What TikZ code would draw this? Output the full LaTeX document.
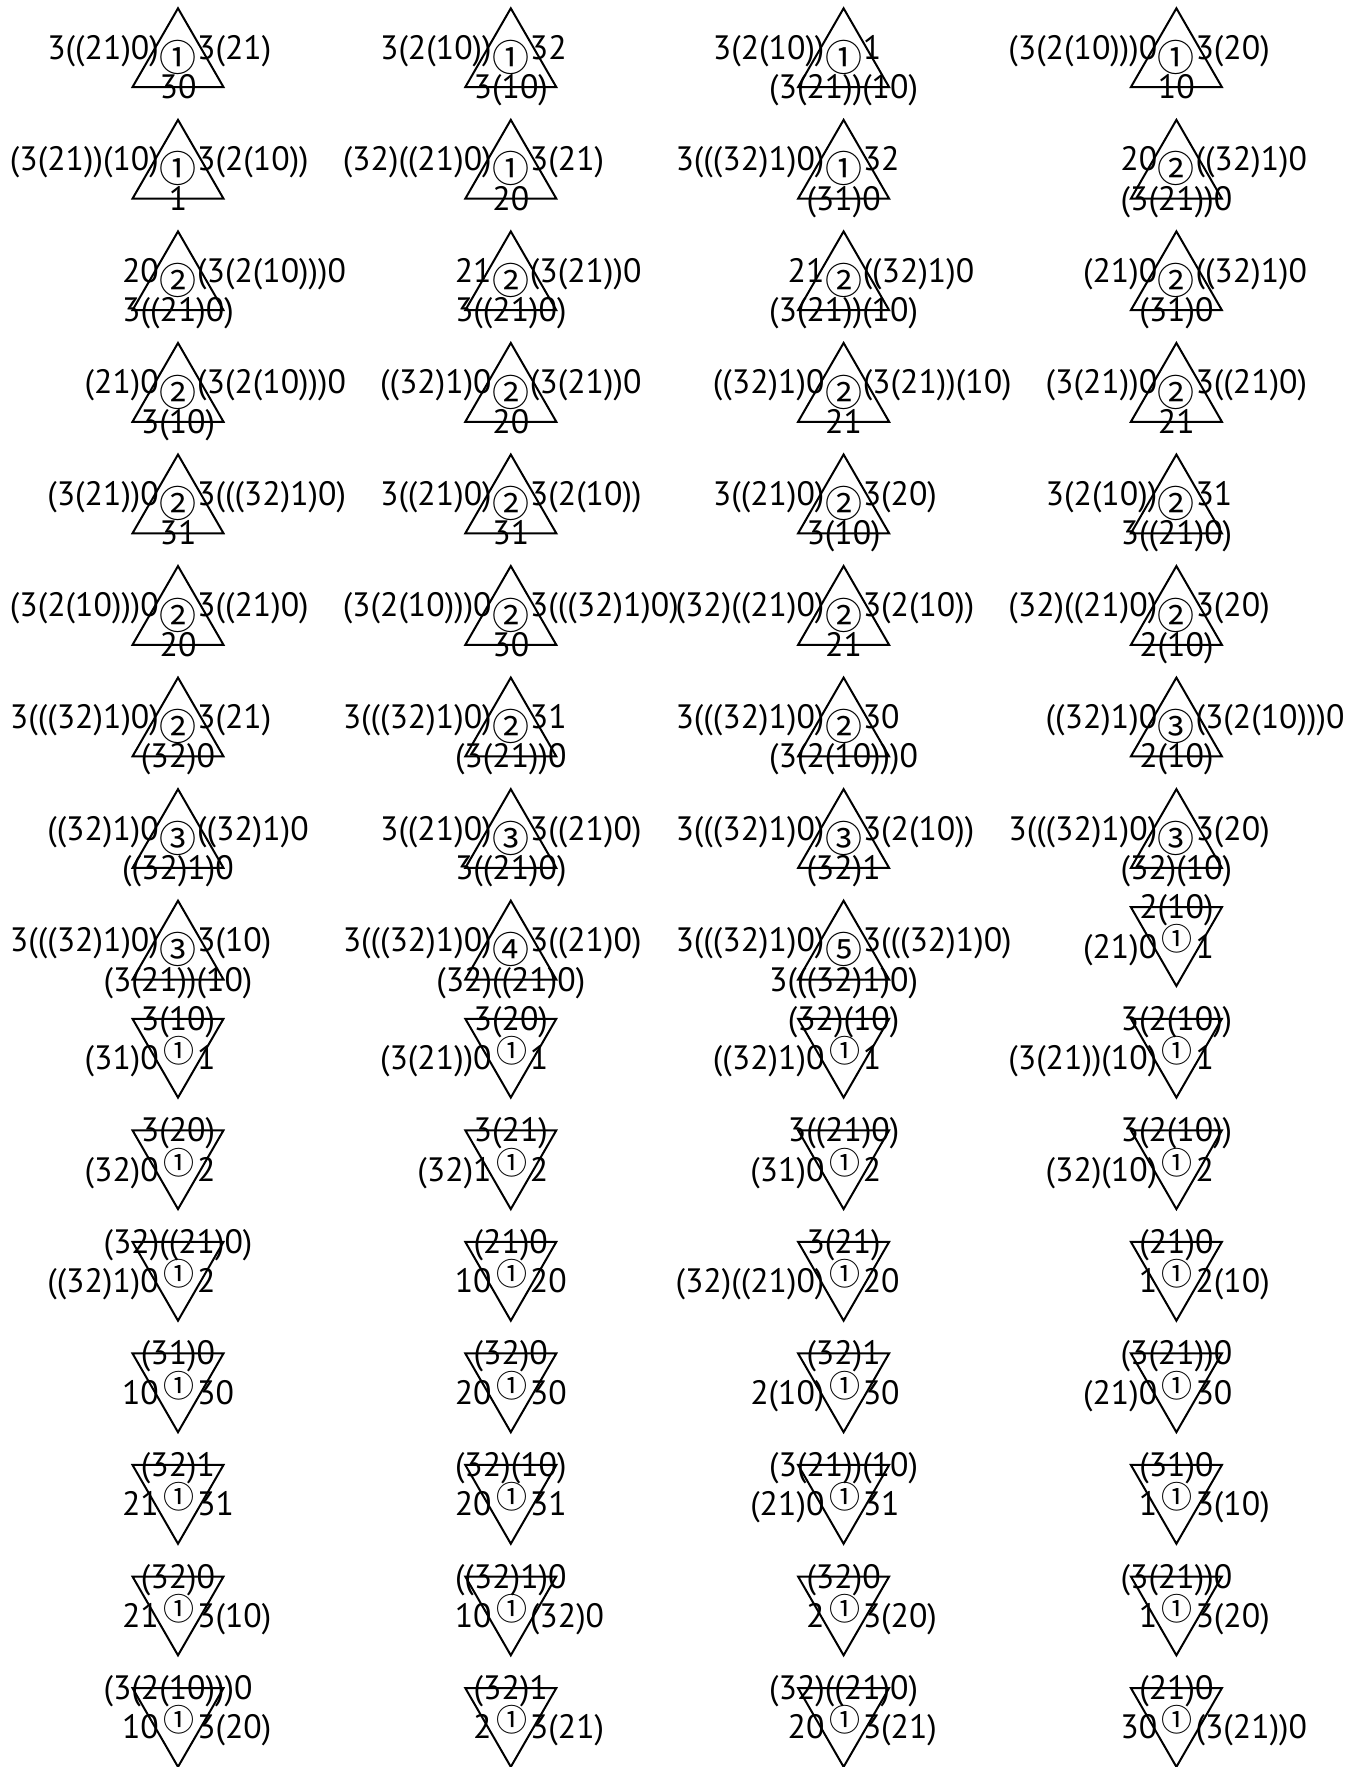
\documentclass[tikz,border=0pt]{standalone}
\usepackage{fontspec}
\setmainfont{PT Sans}
\newfontfamily\circfont{Noto Sans CJK JP}
\tikzset{
  tri/.style={line width=1pt, line join=miter},
  lab/.style={inner sep=0pt, font=\fontsize{16.9pt}{20pt}\selectfont},
  unum/.style={inner sep=0pt, font=\circfont\fontsize{18.5pt}{20pt}\selectfont},
  dnum/.style={inner sep=0pt, font=\circfont\fontsize{15.5pt}{18pt}\selectfont},
}
% #1 name, #2 col, #3 row, #4 left, #5 right, #6 bottom, #7 number
\newcommand\uptri[7]{%
  \pgfmathsetmacro\tcx{178+332.8*#2}%
  \pgfmathsetmacro\tty{8.3+111.55*#3}%
  \coordinate (#1-a) at (\tcx,\tty);
  \coordinate (#1-bl) at (\tcx-45.5,\tty+78.8);
  \coordinate (#1-br) at (\tcx+45.5,\tty+78.8);
  \draw[tri] (#1-a) -- (#1-bl) -- (#1-br) -- cycle;
  \node[lab, anchor=base east] (#1-l) at (\tcx-22.75+4,\tty+39.4+11.5) {#4};
  \node[lab, anchor=base west] (#1-r) at (\tcx+22.75-4,\tty+39.4+11.5) {#5};
  \node[lab, anchor=base] (#1-b) at (\tcx,\tty+78.8+11.5) {#6};
  \node[unum] (#1-n) at (\tcx,\tty+49) {#7};
}
% #1 name, #2 col, #3 row, #4 left, #5 right, #6 top, #7 number
\newcommand\dntri[7]{%
  \pgfmathsetmacro\tcx{178+332.8*#2}%
  \pgfmathsetmacro\tty{8.3+111.55*#3+6.5}%
  \coordinate (#1-tl) at (\tcx-45.5,\tty);
  \coordinate (#1-tr) at (\tcx+45.5,\tty);
  \coordinate (#1-a) at (\tcx,\tty+78.8);
  \draw[tri] (#1-tl) -- (#1-tr) -- (#1-a) -- cycle;
  \node[lab, anchor=base east] (#1-l) at (\tcx-22.75+4,\tty+39.4+11.5) {#4};
  \node[lab, anchor=base west] (#1-r) at (\tcx+22.75-4,\tty+39.4+11.5) {#5};
  \node[lab, anchor=base] (#1-t) at (\tcx,\tty+11.5) {#6};
  \node[dnum] (#1-n) at (\tcx+1,\tty+32) {#7};
}
\begin{document}
\begin{tikzpicture}[x=0.5pt,y=-0.5pt]
\fill[white] (0,0) rectangle (1369,1767);
\useasboundingbox (0,0) rectangle (1369,1767);
% row 1
\uptri{r1c1}{0}{0}{3((21)0)}{3(21)}{30}{①}
\uptri{r1c2}{1}{0}{3(2(10))}{32}{3(10)}{①}
\uptri{r1c3}{2}{0}{3(2(10))}{1}{(3(21))(10)}{①}
\uptri{r1c4}{3}{0}{(3(2(10)))0}{3(20)}{10}{①}
% row 2
\uptri{r2c1}{0}{1}{(3(21))(10)}{3(2(10))}{1}{①}
\uptri{r2c2}{1}{1}{(32)((21)0)}{3(21)}{20}{①}
\uptri{r2c3}{2}{1}{3(((32)1)0)}{32}{(31)0}{①}
\uptri{r2c4}{3}{1}{20}{((32)1)0}{(3(21))0}{②}
% row 3
\uptri{r3c1}{0}{2}{20}{(3(2(10)))0}{3((21)0)}{②}
\uptri{r3c2}{1}{2}{21}{(3(21))0}{3((21)0)}{②}
\uptri{r3c3}{2}{2}{21}{((32)1)0}{(3(21))(10)}{②}
\uptri{r3c4}{3}{2}{(21)0}{((32)1)0}{(31)0}{②}
% row 4
\uptri{r4c1}{0}{3}{(21)0}{(3(2(10)))0}{3(10)}{②}
\uptri{r4c2}{1}{3}{((32)1)0}{(3(21))0}{20}{②}
\uptri{r4c3}{2}{3}{((32)1)0}{(3(21))(10)}{21}{②}
\uptri{r4c4}{3}{3}{(3(21))0}{3((21)0)}{21}{②}
% row 5
\uptri{r5c1}{0}{4}{(3(21))0}{3(((32)1)0)}{31}{②}
\uptri{r5c2}{1}{4}{3((21)0)}{3(2(10))}{31}{②}
\uptri{r5c3}{2}{4}{3((21)0)}{3(20)}{3(10)}{②}
\uptri{r5c4}{3}{4}{3(2(10))}{31}{3((21)0)}{②}
% row 6
\uptri{r6c1}{0}{5}{(3(2(10)))0}{3((21)0)}{20}{②}
\uptri{r6c2}{1}{5}{(3(2(10)))0}{3(((32)1)0)}{30}{②}
\uptri{r6c3}{2}{5}{(32)((21)0)}{3(2(10))}{21}{②}
\uptri{r6c4}{3}{5}{(32)((21)0)}{3(20)}{2(10)}{②}
% row 7
\uptri{r7c1}{0}{6}{3(((32)1)0)}{3(21)}{(32)0}{②}
\uptri{r7c2}{1}{6}{3(((32)1)0)}{31}{(3(21))0}{②}
\uptri{r7c3}{2}{6}{3(((32)1)0)}{30}{(3(2(10)))0}{②}
\uptri{r7c4}{3}{6}{((32)1)0}{(3(2(10)))0}{2(10)}{③}
% row 8
\uptri{r8c1}{0}{7}{((32)1)0}{((32)1)0}{((32)1)0}{③}
\uptri{r8c2}{1}{7}{3((21)0)}{3((21)0)}{3((21)0)}{③}
\uptri{r8c3}{2}{7}{3(((32)1)0)}{3(2(10))}{(32)1}{③}
\uptri{r8c4}{3}{7}{3(((32)1)0)}{3(20)}{(32)(10)}{③}
% row 9
\uptri{r9c1}{0}{8}{3(((32)1)0)}{3(10)}{(3(21))(10)}{③}
\uptri{r9c2}{1}{8}{3(((32)1)0)}{3((21)0)}{(32)((21)0)}{④}
\uptri{r9c3}{2}{8}{3(((32)1)0)}{3(((32)1)0)}{3(((32)1)0)}{⑤}
\dntri{r9c4}{3}{8}{(21)0}{1}{2(10)}{①}
% row 10
\dntri{r10c1}{0}{9}{(31)0}{1}{3(10)}{①}
\dntri{r10c2}{1}{9}{(3(21))0}{1}{3(20)}{①}
\dntri{r10c3}{2}{9}{((32)1)0}{1}{(32)(10)}{①}
\dntri{r10c4}{3}{9}{(3(21))(10)}{1}{3(2(10))}{①}
% row 11
\dntri{r11c1}{0}{10}{(32)0}{2}{3(20)}{①}
\dntri{r11c2}{1}{10}{(32)1}{2}{3(21)}{①}
\dntri{r11c3}{2}{10}{(31)0}{2}{3((21)0)}{①}
\dntri{r11c4}{3}{10}{(32)(10)}{2}{3(2(10))}{①}
% row 12
\dntri{r12c1}{0}{11}{((32)1)0}{2}{(32)((21)0)}{①}
\dntri{r12c2}{1}{11}{10}{20}{(21)0}{①}
\dntri{r12c3}{2}{11}{(32)((21)0)}{20}{3(21)}{①}
\dntri{r12c4}{3}{11}{1}{2(10)}{(21)0}{①}
% row 13
\dntri{r13c1}{0}{12}{10}{30}{(31)0}{①}
\dntri{r13c2}{1}{12}{20}{30}{(32)0}{①}
\dntri{r13c3}{2}{12}{2(10)}{30}{(32)1}{①}
\dntri{r13c4}{3}{12}{(21)0}{30}{(3(21))0}{①}
% row 14
\dntri{r14c1}{0}{13}{21}{31}{(32)1}{①}
\dntri{r14c2}{1}{13}{20}{31}{(32)(10)}{①}
\dntri{r14c3}{2}{13}{(21)0}{31}{(3(21))(10)}{①}
\dntri{r14c4}{3}{13}{1}{3(10)}{(31)0}{①}
% row 15
\dntri{r15c1}{0}{14}{21}{3(10)}{(32)0}{①}
\dntri{r15c2}{1}{14}{10}{(32)0}{((32)1)0}{①}
\dntri{r15c3}{2}{14}{2}{3(20)}{(32)0}{①}
\dntri{r15c4}{3}{14}{1}{3(20)}{(3(21))0}{①}
% row 16
\dntri{r16c1}{0}{15}{10}{3(20)}{(3(2(10)))0}{①}
\dntri{r16c2}{1}{15}{2}{3(21)}{(32)1}{①}
\dntri{r16c3}{2}{15}{20}{3(21)}{(32)((21)0)}{①}
\dntri{r16c4}{3}{15}{30}{(3(21))0}{(21)0}{①}
\end{tikzpicture}
\end{document}
